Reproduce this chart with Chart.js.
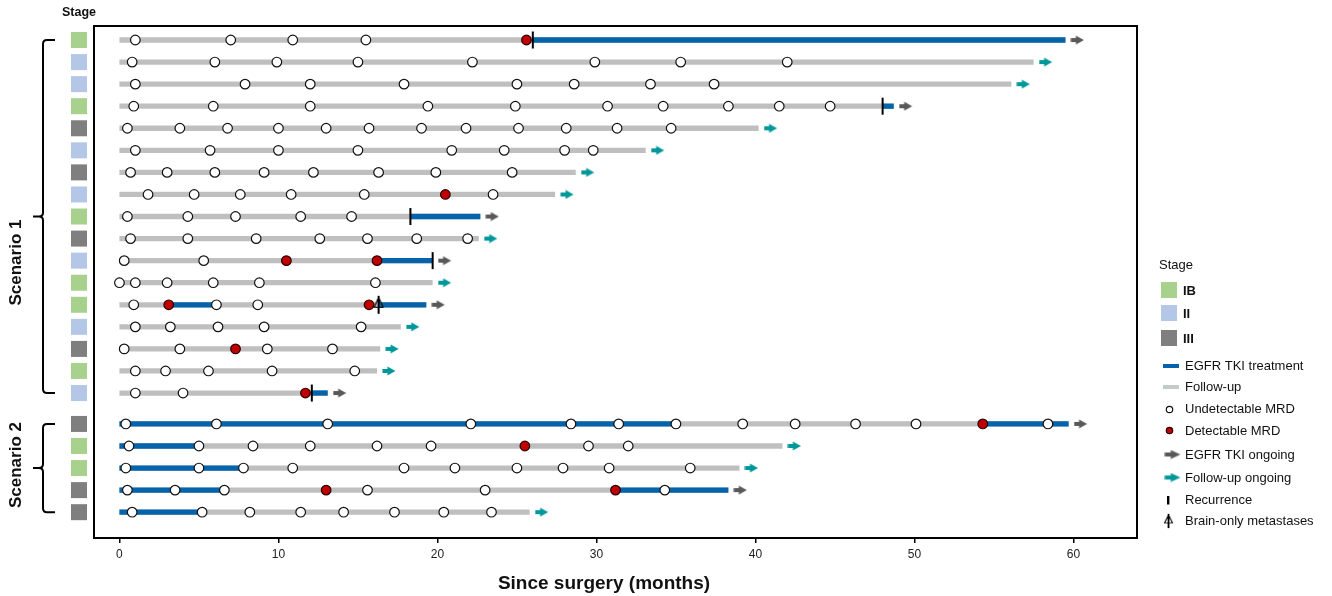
<!DOCTYPE html>
<html>
<head>
<meta charset="utf-8">
<script src="https://cdn.jsdelivr.net/npm/chart.js@4.4.1/dist/chart.umd.min.js"></script>
<style>
html,body{margin:0;padding:0;background:#fff;}
#wrap{width:1332px;height:596px;position:relative;}
</style>
</head>
<body>
<div id="wrap"><canvas id="c" width="1332" height="596"></canvas></div>
<script>
// ---------------- DATA ----------------
const stageLevels = ['IB', 'II', 'III'];
const scenarioNames = ['Scenario 1', 'Scenario 2'];
const xTicks = [0, 10, 20, 30, 40, 50, 60];

const rowScenario = [1,1,1,1,1,1,1,1,1,1,1,1,1,1,1,1,1, 2,2,2,2,2];
const rowStage = ['IB','II','II','IB','III','II','III','II','IB','III','II','IB','IB','II','III','IB','II',
                  'III','IB','IB','III','III'];
// end of each patient's bar (months since surgery)
const followEnd = [59.5, 57.5, 56.1, 48.7, 40.2, 33.1, 28.7, 27.4, 22.7, 22.6, 19.7, 19.7, 19.3, 17.7, 16.4, 16.2, 13.1,
                   59.7, 41.7, 39.0, 38.3, 25.8];
// EGFR TKI treatment periods [start, end]
const tkiSpans = [
  [[26.0, 59.5]], [], [], [[48.0, 48.7]], [], [], [], [], [[18.3, 22.7]], [], [[16.2, 19.7]], [],
  [[3.1, 6.1], [16.3, 19.3]], [], [], [], [[12.1, 13.1]],
  [[0, 35.0], [54.3, 59.7]], [[0, 5.0]], [[0, 7.8]], [[0, 6.6], [31.2, 38.3]], [[0, 5.2]]
];
const undetectable = [
  [1.0, 7.0, 10.9, 15.5],
  [0.8, 6.0, 9.9, 15.0, 22.2, 29.9, 35.3, 42.0],
  [1.0, 7.9, 12.0, 17.9, 25.0, 28.6, 33.4, 37.4],
  [0.9, 5.9, 12.0, 19.4, 24.9, 30.7, 34.2, 38.3, 41.5, 44.7],
  [0.5, 3.8, 6.8, 10.0, 13.0, 15.7, 19.0, 21.8, 25.1, 28.1, 31.3, 34.7],
  [1.0, 5.7, 10.0, 15.0, 20.9, 24.2, 28.0, 29.8],
  [0.7, 3.0, 6.0, 9.1, 12.2, 16.3, 19.9, 24.7],
  [1.8, 4.7, 7.6, 10.8, 15.4, 23.5],
  [0.5, 4.3, 7.3, 11.4, 14.6],
  [0.7, 4.3, 8.6, 12.6, 15.6, 18.7, 21.9],
  [0.3, 5.3],
  [0.0, 1.0, 3.0, 5.9, 8.8, 16.1],
  [0.9, 6.1, 8.7],
  [1.0, 3.2, 6.2, 9.1, 15.2],
  [0.3, 3.8, 9.3, 13.4],
  [1.0, 2.9, 5.6, 9.6, 14.8],
  [1.0, 4.0],
  [0.4, 6.1, 13.1, 22.1, 28.4, 31.4, 35.0, 39.2, 42.5, 46.3, 50.1, 58.4],
  [0.6, 5.0, 8.4, 12.0, 16.2, 19.6, 29.5, 32.0],
  [0.4, 5.0, 7.8, 10.9, 17.9, 21.1, 25.0, 27.9, 30.8, 35.9],
  [0.5, 3.5, 6.6, 15.6, 23.0, 34.3],
  [0.8, 5.2, 8.2, 11.4, 14.1, 17.3, 20.4, 23.4]
];
const detectable = [
  [25.6], [], [], [], [], [], [], [20.5], [], [], [10.5, 16.2], [], [3.1, 15.7], [], [7.3], [], [11.7],
  [54.3], [25.5], [], [13.0, 31.2], []
];
const recurrence = [26.0, null, null, 48.0, null, null, null, null, 18.3, null, 19.7, null, null, null, null, null, 12.1,
                    null, null, null, null, null];
const brainOnly = [null, null, null, null, null, null, null, null, null, null, null, null, 16.3, null, null, null, null,
                   null, null, null, null, null];
const ongoing = ['tki','follow','follow','tki','follow','follow','follow','follow','tki','follow','tki','follow','tki','follow','follow','follow','tki',
                 'tki','follow','follow','tki','follow'];

// ---------------- STYLE ----------------
const FONT = "'Liberation Sans', Arial, Helvetica, sans-serif";
const GRAY = '#bfbfbf', BLUE = '#0563ab', RED = '#c00000';
const ARROW_GRAY = '#595959', TEAL = '#00979a';
const STAGE_COLORS = {IB: '#a9d18e', II: '#b4c7e7', III: '#7f7f7f'};
const SCEN_GAP = 0.4;     // extra space between scenario blocks (in row units)
const ARROW_GAP = 0.75;   // arrow offset after bar end (months)

const rowPos = rowScenario.map((s, i) => i + (s - 1) * SCEN_GAP);

function arrowImg(color) {
  const c = document.createElement('canvas'); c.width = 14; c.height = 10;
  const g = c.getContext('2d'); g.fillStyle = color;
  g.fillRect(0.5, 3, 5.5, 4);
  g.beginPath(); g.moveTo(5.5, 0.6); g.lineTo(13.5, 5); g.lineTo(5.5, 9.4); g.closePath(); g.fill();
  return c;
}
function brainImg() {
  const c = document.createElement('canvas'); c.width = 12; c.height = 20;
  const g = c.getContext('2d'); g.strokeStyle = '#000';
  g.lineWidth = 2; g.beginPath(); g.moveTo(6, 1); g.lineTo(6, 19); g.stroke();
  g.lineWidth = 1.2; g.beginPath(); g.moveTo(6, 2.5); g.lineTo(1.6, 12.5); g.lineTo(10.4, 12.5); g.closePath(); g.stroke();
  return c;
}
const grayArrow = arrowImg(ARROW_GRAY), tealArrow = arrowImg(TEAL), brainMark = brainImg();

// ---------------- DATASETS ----------------
const datasets = [];
rowPos.forEach((y, i) => {
  datasets.push({data: [{x: 0, y}, {x: followEnd[i], y}], showLine: true, borderColor: GRAY, borderWidth: 5.3,
    borderCapStyle: 'butt', pointRadius: 0, order: 50});
  tkiSpans[i].forEach(([a, b]) => datasets.push({data: [{x: a, y}, {x: b, y}], showLine: true, borderColor: BLUE,
    borderWidth: 5.3, borderCapStyle: 'butt', pointRadius: 0, order: 40}));
});
datasets.push({data: undetectable.flatMap((arr, i) => arr.map(x => ({x, y: rowPos[i]}))),
  pointStyle: 'circle', pointRadius: 4.8, pointBackgroundColor: '#fff', pointBorderColor: '#111', pointBorderWidth: 1.2, order: 30});
datasets.push({data: detectable.flatMap((arr, i) => arr.map(x => ({x, y: rowPos[i]}))),
  pointStyle: 'circle', pointRadius: 4.8, pointBackgroundColor: RED, pointBorderColor: '#2a0000', pointBorderWidth: 1.2, order: 29});
datasets.push({data: recurrence.map((x, i) => x === null ? null : {x, y: rowPos[i]}).filter(Boolean),
  pointStyle: 'line', pointRotation: 90, pointRadius: 8.5, pointBorderColor: '#000', pointBorderWidth: 2, order: 20});
datasets.push({data: brainOnly.map((x, i) => x === null ? null : {x, y: rowPos[i]}).filter(Boolean),
  pointStyle: brainMark, pointRadius: 6, order: 20});
datasets.push({data: ongoing.map((k, i) => k === 'tki' ? {x: followEnd[i] + ARROW_GAP, y: rowPos[i]} : null).filter(Boolean),
  pointStyle: grayArrow, pointRadius: 6, order: 10});
datasets.push({data: ongoing.map((k, i) => k === 'follow' ? {x: followEnd[i] + ARROW_GAP, y: rowPos[i]} : null).filter(Boolean),
  pointStyle: tealArrow, pointRadius: 6, order: 10});

// ---------------- DECORATION PLUGIN ----------------
const deco = {
  id: 'deco',
  afterDraw(chart) {
    const {ctx, chartArea: a, scales: {x: xs, y: ys}} = chart;
    ctx.save();
    // frame
    ctx.strokeStyle = '#000'; ctx.lineWidth = 2;
    ctx.strokeRect(a.left, a.top, a.right - a.left, a.bottom - a.top);
    // stage squares
    const sqX = a.left - 15;
    rowPos.forEach((v, i) => {
      const py = ys.getPixelForValue(v);
      ctx.fillStyle = STAGE_COLORS[rowStage[i]];
      ctx.fillRect(sqX - 8, py - 8, 16, 16);
    });
    ctx.fillStyle = '#111'; ctx.textAlign = 'center'; ctx.textBaseline = 'middle';
    ctx.font = 'bold 12.5px ' + FONT;
    ctx.fillText('Stage', sqX, 13);
    // braces + scenario labels
    const labelY = {1: null, 2: null};
    scenarioNames.forEach((name, si) => {
      const idx = rowScenario.map((s, i) => s === si + 1 ? i : -1).filter(i => i >= 0);
      const top = ys.getPixelForValue(rowPos[idx[0]]);
      const bot = ys.getPixelForValue(rowPos[idx[idx.length - 1]]);
      const mid = (top + bot) / 2;
      const bx = 43, r = 4;
      ctx.strokeStyle = '#000'; ctx.lineWidth = 2;
      ctx.beginPath();
      ctx.moveTo(55, top); ctx.lineTo(bx + r, top);
      ctx.quadraticCurveTo(bx, top, bx, top + r);
      ctx.lineTo(bx, mid - r);
      ctx.quadraticCurveTo(bx, mid, bx - r, mid);
      ctx.lineTo(33, mid);
      ctx.moveTo(bx - r, mid);
      ctx.quadraticCurveTo(bx, mid, bx, mid + r);
      ctx.lineTo(bx, bot - r);
      ctx.quadraticCurveTo(bx, bot, bx + r, bot);
      ctx.lineTo(55, bot);
      ctx.stroke();
      const ty = si === 0 ? mid + 46 : mid - 3;
      ctx.save();
      ctx.translate(16, ty); ctx.rotate(-Math.PI / 2);
      ctx.font = 'bold 17px ' + FONT; ctx.fillStyle = '#111';
      ctx.textAlign = 'center'; ctx.textBaseline = 'middle';
      ctx.fillText(name, 0, 0);
      ctx.restore();
    });
    // axis title
    ctx.font = 'bold 19px ' + FONT; ctx.fillStyle = '#111';
    ctx.textAlign = 'center'; ctx.textBaseline = 'middle';
    ctx.fillText('Since surgery (months)', 604, 584);

    // legend
    const LX = 1159, TX = 1185;
    ctx.textAlign = 'left'; ctx.textBaseline = 'middle';
    ctx.font = '13px ' + FONT; ctx.fillStyle = '#111';
    ctx.fillText('Stage', LX, 265);
    const sqY = [290, 313, 338];
    stageLevels.forEach((s, k) => {
      ctx.fillStyle = STAGE_COLORS[s];
      ctx.fillRect(1161, sqY[k] - 8, 16, 16);
      ctx.fillStyle = '#111'; ctx.font = 'bold 13px ' + FONT;
      ctx.fillText(s, 1183, sqY[k] + 1);
    });
    ctx.font = '13px ' + FONT;
    ctx.fillStyle = BLUE; ctx.fillRect(1163, 364, 16, 4);
    ctx.fillStyle = '#111'; ctx.fillText('EGFR TKI treatment', TX, 366);
    ctx.fillStyle = '#c3cbc7'; ctx.fillRect(1163, 385, 16, 4);
    ctx.fillStyle = '#111'; ctx.fillText('Follow-up', TX, 387);
    ctx.lineWidth = 1.2;
    ctx.beginPath(); ctx.arc(1169.5, 409.5, 3.2, 0, Math.PI * 2);
    ctx.fillStyle = '#fff'; ctx.fill(); ctx.strokeStyle = '#111'; ctx.stroke();
    ctx.fillStyle = '#111'; ctx.fillText('Undetectable MRD', TX, 409.5);
    ctx.beginPath(); ctx.arc(1169.5, 430.5, 3.2, 0, Math.PI * 2);
    ctx.fillStyle = RED; ctx.fill(); ctx.strokeStyle = '#2a0000'; ctx.stroke();
    ctx.fillStyle = '#111'; ctx.fillText('Detectable MRD', TX, 431);
    ctx.drawImage(grayArrow, 1164, 449.5, 17, 10);
    ctx.fillText('EGFR TKI ongoing', TX, 455.5);
    ctx.drawImage(tealArrow, 1164, 472.5, 17, 10);
    ctx.fillText('Follow-up ongoing', TX, 478);
    ctx.fillStyle = '#000'; ctx.fillRect(1167, 496, 2.4, 8.5);
    ctx.fillStyle = '#111'; ctx.fillText('Recurrence', TX, 500.5);
    ctx.drawImage(brainMark, 1163, 513, 11, 16);
    ctx.fillText('Brain-only metastases', TX, 521.5);
    ctx.restore();
  }
};

// ---------------- CHART ----------------
Chart.defaults.font.family = FONT;
new Chart(document.getElementById('c'), {
  type: 'scatter',
  data: {datasets},
  options: {
    responsive: false,
    devicePixelRatio: 1,
    animation: false,
    events: [],
    layout: {padding: {left: 94, right: 195, top: 26, bottom: 0}},
    plugins: {legend: {display: false}, tooltip: {enabled: false}},
    scales: {
      x: {
        type: 'linear', min: -1.6, max: 64.0,
        afterBuildTicks: s => { s.ticks = xTicks.map(v => ({value: v})); },
        afterFit: s => { s.height = 58; },
        grid: {display: true, drawOnChartArea: false, drawTicks: true, tickLength: 5, color: '#000', lineWidth: 1.5},
        border: {display: true, color: '#000', width: 2},
        ticks: {color: '#222', font: {size: 12}, padding: 4, maxRotation: 0}
      },
      y: {
        type: 'linear', reverse: true, min: -0.635, max: 22.57, display: false
      }
    }
  },
  plugins: [deco]
});
</script>
</body>
</html>
